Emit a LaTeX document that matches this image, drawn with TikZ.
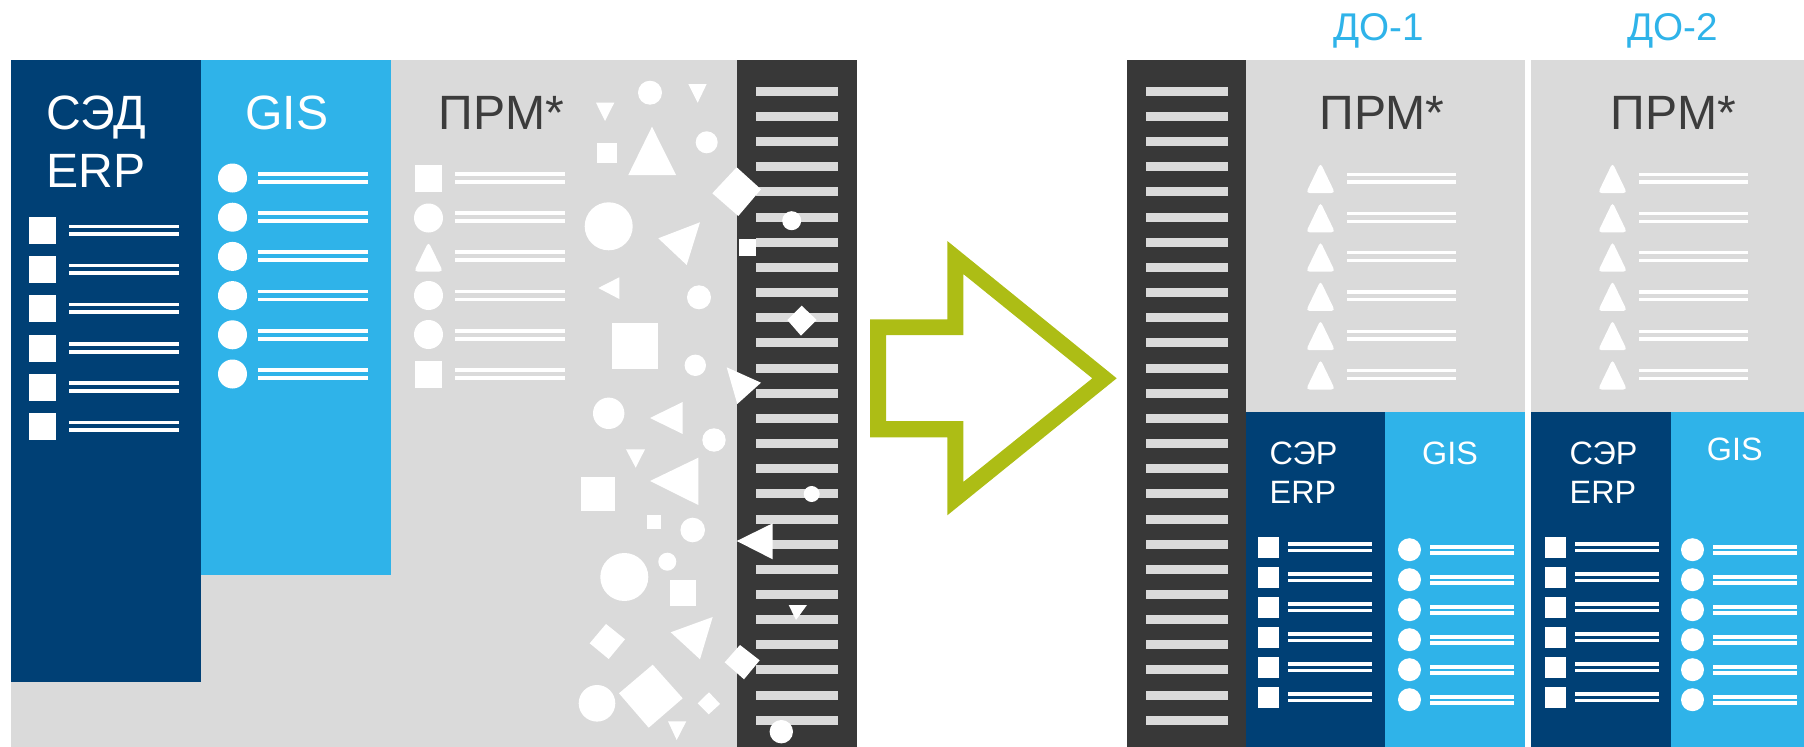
\documentclass[tikz,border=0pt]{standalone}
\usepackage{fontspec}
\setmainfont{Liberation Sans}
\definecolor{sedblue}{HTML}{004075}
\definecolor{gisblue}{HTML}{2FB3E9}
\definecolor{prmgray}{HTML}{DADADA}
\definecolor{busgray}{HTML}{383838}
\definecolor{txtgray}{HTML}{3C3C3C}
\definecolor{arrowgreen}{HTML}{ADBD15}
\begin{document}
\begin{tikzpicture}[x=0.1mm, y=-0.1mm,
  headw/.style={font=\fontsize{13.7}{16}\selectfont, text=white, inner sep=0pt, anchor=base west},
  headg/.style={font=\fontsize{13.7}{16}\selectfont, text=txtgray, inner sep=0pt, anchor=base},
  dotitle/.style={font=\fontsize{11}{13}\selectfont, text=gisblue, inner sep=0pt, anchor=base},
  subw/.style={font=\fontsize{9.2}{11}\selectfont, text=white, inner sep=0pt, anchor=base west},
  icon/.style={fill=white}]
\useasboundingbox (0,0) rectangle (1804,747);
\fill[prmgray] (11,60) rectangle (737,747);
\fill[sedblue] (11,60) rectangle (201,682);
\fill[gisblue] (201,60) rectangle (391,575);
\fill[busgray] (737,60) rectangle (857,747);
\fill[busgray] (1127,60) rectangle (1246,747);
\fill[prmgray] (1246,60) rectangle (1525,412);
\fill[prmgray] (1531,60) rectangle (1804,412);
\fill[sedblue] (1246,412) rectangle (1385,747);
\fill[gisblue] (1385,412) rectangle (1525,747);
\fill[sedblue] (1531,412) rectangle (1671,747);
\fill[gisblue] (1671,412) rectangle (1804,747);
\foreach \i [evaluate=\i as \c using 91.3+25.16*\i] in {0,...,25} {
  \fill[prmgray] (756,\c-4.5) rectangle (838,\c+4.5);
  \fill[prmgray] (1146,\c-4.5) rectangle (1228,\c+4.5);
}
\node[headw] (sed) at (46,130) {СЭД};
\node[headw] (erpL) at (46,187) {ERP};
\node[headg, text=white] (gisL) at (287,130) {GIS};
\node[headg] (prmL) at (501.5,130) {ПРМ*};
\foreach \i [evaluate=\i as \c using 230.5+39.2*\i] in {0,...,5} {
  \fill[icon] (29,\c-13.5) rectangle (56,\c+13.5);
  \fill[icon] (69,\c-6) rectangle (179,\c-2.5);
  \fill[icon] (69,\c+1.5) rectangle (179,\c+5.5);
}
\foreach \i [evaluate=\i as \c using 178+39.2*\i] in {0,...,5} {
  \fill[icon] (232.5,\c) circle (14.5);
  \fill[icon] (258,\c-6) rectangle (368,\c-2.3);
  \fill[icon] (258,\c+2) rectangle (368,\c+5.7);
  \fill[icon] (455,\c-6) rectangle (565,\c-2.3);
  \fill[icon] (455,\c+2) rectangle (565,\c+5.7);
}
\fill[icon] (415,165) rectangle (442,192);
\fill[icon] (428.5,218) circle (14.5);
\fill[icon, rounded corners=1pt] (414,271.5) -- (428.5,242) -- (443,271.5) -- cycle;
\fill[icon] (428.5,295.5) circle (14.5);
\fill[icon] (428.5,334.5) circle (14.5);
\fill[icon] (415,361) rectangle (442,388);
\foreach \x/\y/\r in {650/92.7/12, 706.7/142.3/11, 608.7/226.3/24, 791.7/220.7/9.5, 699/297.3/12,
  695.3/365.3/10.7, 608.7/413.3/15.7, 714/440/11.7, 692.7/530/12.3, 811.7/494/8, 667.3/561.7/9,
  624.3/577/24, 597/703.3/18.3, 781.3/731.7/11.7}
  \fill[icon] (\x,\y) circle (\r);
\fill[icon] (597,143) rectangle (617,162.7);
\fill[icon] (739,238.7) rectangle (756,255.7);
\fill[icon] (612,323.3) rectangle (657.7,368.7);
\fill[icon] (581,477) rectangle (615,510.7);
\fill[icon] (647,515) rectangle (661,528.7);
\fill[icon] (670,580) rectangle (696,605.7);
\fill[icon] (688.3,84) -- (706.7,84) -- (697.7,102.7) -- cycle;
\fill[icon] (596,102.7) -- (614.3,102.7) -- (605,121) -- cycle;
\fill[icon] (628.3,175) -- (652,126.7) -- (676,175) -- cycle;
\fill[icon] (712.3,193.3) -- (736.7,167.3) -- (761,189.3) -- (738.3,216) -- cycle;
\fill[icon] (658.3,238.3) -- (700,222.3) -- (686.7,265) -- cycle;
\fill[icon] (598.3,288) -- (619.3,277.3) -- (619.3,299) -- cycle;
\fill[icon] (787.3,320) -- (801.7,305.7) -- (816.7,320) -- (801,335.7) -- cycle;
\fill[icon] (726.7,367.3) -- (761,382.7) -- (737.3,404) -- cycle;
\fill[icon] (650,418) -- (682.7,402) -- (682.7,434) -- cycle;
\fill[icon] (626,449.3) -- (645,449.3) -- (635.7,467.7) -- cycle;
\fill[icon] (650,481) -- (698.3,457.7) -- (698.3,505) -- cycle;
\fill[icon] (736.7,541) -- (772.7,523.3) -- (772.7,559.3) -- cycle;
\fill[icon] (788.7,605) -- (807,605) -- (796,620) -- cycle;
\fill[icon] (589.7,643.3) -- (606,624) -- (625,639.3) -- (608.7,659) -- cycle;
\fill[icon] (670.7,632.3) -- (712.7,617) -- (700,659.3) -- cycle;
\fill[icon] (724.7,662.3) -- (740,645) -- (759.7,660.3) -- (744,679.3) -- cycle;
\fill[icon] (619,693.3) -- (652.7,664.7) -- (682.7,698.3) -- (648.7,727.7) -- cycle;
\fill[icon] (697.7,703.3) -- (709,692.3) -- (720,704) -- (708.7,714.3) -- cycle;
\fill[icon] (668,721.3) -- (686.3,721.3) -- (676.7,740) -- cycle;
\fill[arrowgreen, even odd rule] (870,319.3) -- (947.3,319.3) -- (947.3,241) -- (1116.7,378.3)
  -- (947.3,515.3) -- (947.3,437.3) -- (870,437.3) -- cycle
  (886,335) -- (963.3,335) -- (963.3,274) -- (1092.3,378.3) -- (963.3,482)
  -- (963.3,421) -- (886,421) -- cycle;
\node[dotitle] (do1) at (1378.5,41) {ДО-1};
\node[dotitle] (do2) at (1672.5,41) {ДО-2};
\node[headg] (prm1) at (1382,130) {ПРМ*};
\node[headg] (prm2) at (1673.5,130) {ПРМ*};
\foreach \tx in {1320.5,1612.5} {
  \foreach \i [evaluate=\i as \c using 178+39.3*\i] in {0,...,5} {
    \fill[icon, rounded corners=1pt] (\tx-14.5,\c+15) -- (\tx,\c-15) -- (\tx+14.5,\c+15) -- cycle;
    \fill[icon] (\tx+26.5,\c-5.5) rectangle (\tx+135.5,\c-2.2);
    \fill[icon] (\tx+26.5,\c+2.2) rectangle (\tx+135.5,\c+5.5);
  }
}
\node[subw] (ser1) at (1269,464.3) {СЭР};
\node[subw] (erp1) at (1269,503.3) {ERP};
\node[subw] (ser2) at (1569,464.3) {СЭР};
\node[subw] (erp2) at (1569,503.3) {ERP};
\node[subw, anchor=base] (gis1) at (1450,464.3) {GIS};
\node[subw, anchor=base] (gis2) at (1734.7,460.7) {GIS};
\foreach \sx/\cx in {0/0, 287/283} {
  \foreach \i [evaluate=\i as \c using 547.3+30*\i] in {0,...,5} {
    \fill[icon] (1258+\sx,\c-10.3) rectangle (1279+\sx,\c+10.3);
    \fill[icon] (1288+\sx,\c-5) rectangle (1372+\sx,\c-1.5);
    \fill[icon] (1288+\sx,\c+1.5) rectangle (1372+\sx,\c+5);
    \fill[icon] (1409.5+\cx,\c+2.4) circle (11.5);
    \fill[icon] (1429.5+\cx,\c-2.3) rectangle (1513.7+\cx,\c+1.4);
    \fill[icon] (1429.5+\cx,\c+3.7) rectangle (1513.7+\cx,\c+7.4);
  }
}
\end{tikzpicture}
\end{document}
